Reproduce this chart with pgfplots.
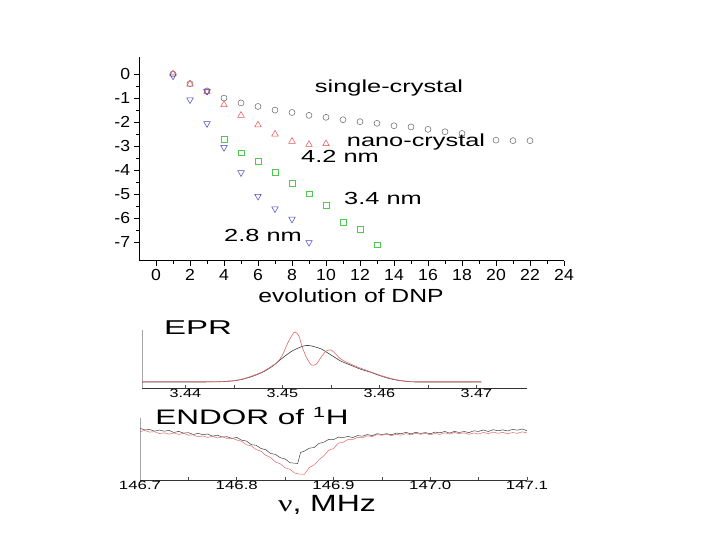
\documentclass[border=0pt]{standalone}
\usepackage{pgfplots}
\pgfplotsset{compat=1.18}
\usepackage{fontspec}
\setmainfont{Liberation Sans}
\newfontfamily\greekserif{Liberation Serif}

\definecolor{scgray}{RGB}{100,100,100}
\definecolor{ncred}{RGB}{230,80,80}
\definecolor{ncgreen}{RGB}{80,200,80}
\definecolor{ncblue}{RGB}{70,70,200}
\definecolor{specred}{RGB}{225,105,105}

\begin{document}
\begin{tikzpicture}
\path[use as bounding box] (0pt,0pt) rectangle (720pt,540pt);

% DNP enhancement vs evolution
\begin{axis}[
    at={(139pt,279.3pt)}, anchor=south west,
    scale only axis, width=425pt, height=204pt,
    xmin=-1, xmax=24, ymin=-7.76, ymax=0.72,
    axis x line=bottom, axis y line=left,
    axis line style={-, line width=1pt},
    xtick={0,2,...,24}, ytick={-7,-6,...,0},
    minor x tick num=1, minor y tick num=1,
    tick align=outside, major tick length=5pt, minor tick length=3pt,
    tick style={black, line width=0.8pt},
    /pgf/number format/assume math mode=true,
    tick label style={font=\fontsize{16}{16}\selectfont, xscale=1.1},
    clip=false,
]
\addplot[only marks, mark=o, mark size=3pt, scgray, line width=0.5pt] coordinates {
(1,0) (2,-0.4) (3,-0.7) (4,-1.0) (5,-1.2) (6,-1.35) (7,-1.5) (8,-1.6)
(9,-1.72) (10,-1.8) (11,-1.9) (12,-1.98) (13,-2.05) (14,-2.15) (15,-2.2)
(16,-2.3) (17,-2.4) (18,-2.47) (20,-2.75) (21,-2.77) (22,-2.77)
};
\addplot[only marks, mark=triangle, mark size=3.8pt, ncred, line width=0.5pt] coordinates {
(1,0) (2,-0.42) (3,-0.75) (4,-1.28) (5,-1.72) (6,-2.12) (7,-2.5) (8,-2.8)
(9,-2.93) (10,-2.9)
};
\addplot[only marks, mark=square, mark size=2.8pt, ncgreen, line width=0.5pt] coordinates {
(4,-2.7) (5,-3.27) (6,-3.62) (7,-4.08) (8,-4.55) (9,-4.97) (10,-5.45)
(11,-6.15) (12,-6.45) (13,-7.1)
};
\addplot[only marks, mark=triangle, mark options={rotate=180}, mark size=3.8pt, ncblue, line width=0.5pt] coordinates {
(1,-0.08) (2,-1.07) (3,-2.06) (3,-0.72) (4,-3.05) (5,-4.1) (6,-5.08) (7,-5.6)
(8,-6.03) (9,-7.0)
};
\end{axis}

\node[anchor=base, font=\fontsize{17.5}{17.5}\selectfont, xscale=1.45] at (389pt,447pt) {single-crystal};
\node[anchor=base, font=\fontsize{17.5}{17.5}\selectfont, xscale=1.45] at (416pt,393pt) {nano-crystal};
\node[anchor=base, font=\fontsize{17.5}{17.5}\selectfont, xscale=1.45] at (340pt,377pt) {4.2 nm};
\node[anchor=base, font=\fontsize{17.5}{17.5}\selectfont, xscale=1.45] at (383pt,335pt) {3.4 nm};
\node[anchor=base, font=\fontsize{17.5}{17.5}\selectfont, xscale=1.45] at (263pt,298pt) {2.8 nm};
\node[anchor=base, font=\fontsize{19}{19}\selectfont, xscale=1.3] at (351pt,237pt) {evolution of DNP};

% EPR spectrum
\begin{axis}[
    at={(142pt,152pt)}, anchor=south west,
    scale only axis, width=385pt, height=58pt,
    xmin=3.43552, xmax=3.47521, ymin=-6, ymax=52,
    axis x line=bottom, axis y line=left,
    x axis line style={-, line width=0.8pt, black!80},
    y axis line style={-, line width=0.6pt, black!35},
    xtick={3.44,3.45,3.46,3.47}, ytick=\empty,
    minor x tick num=1, scaled x ticks=false,
    tick align=inside, major tick length=3pt, minor tick length=3pt,
    tick style={black!70, line width=0.6pt},
    xticklabel style={/pgf/number format/fixed, /pgf/number format/precision=2,
        /pgf/number format/fixed zerofill,
        font=\fontsize{12}{12}\selectfont, xscale=1.35, yshift=2pt},
    /pgf/number format/assume math mode=true,
]
\addplot[black!75, line width=0.6pt, smooth] coordinates {
(3.4355,0) (3.440,0) (3.443,0.1) (3.444,0.5) (3.445,1.2) (3.446,3) (3.447,6)
(3.448,10) (3.449,16) (3.450,24) (3.451,31) (3.452,35.5) (3.4525,36.5) (3.453,36) (3.454,33)
(3.455,27) (3.456,21) (3.457,17) (3.458,13) (3.459,10) (3.460,6.5) (3.461,3.5)
(3.462,1.5) (3.463,0.5) (3.464,0) (3.4705,0)
};
\addplot[specred, line width=0.6pt, smooth] coordinates {
(3.4355,0.3) (3.440,0.3) (3.443,0.3) (3.444,0.6) (3.445,1.4) (3.446,3.3)
(3.447,6.5) (3.448,10.5) (3.449,16.5) (3.4495,20) (3.450,27) (3.4505,38)
(3.451,47) (3.4513,50) (3.4517,46) (3.452,36) (3.4525,24) (3.453,17)
(3.4535,18) (3.454,25) (3.4545,31) (3.455,32) (3.4555,28) (3.456,23)
(3.457,18) (3.458,14) (3.459,10.5) (3.460,7) (3.461,4) (3.462,1.8)
(3.463,0.6) (3.464,0.3) (3.4705,0.3)
};
\end{axis}
\node[anchor=base, font=\fontsize{20}{20}\selectfont, xscale=1.65] at (198pt,205pt) {EPR};

% ENDOR spectrum
\begin{axis}[
    at={(140pt,60pt)}, anchor=south west,
    scale only axis, width=387pt, height=62pt,
    xmin=146.7, xmax=147.1, ymin=-50, ymax=12,
    axis x line=bottom, axis y line=left,
    x axis line style={-, line width=0.8pt, black!80},
    y axis line style={-, line width=0.6pt, black!35},
    xtick={146.7,146.8,146.9,147.0,147.1}, ytick=\empty,
    minor x tick num=1, scaled x ticks=false,
    tick align=inside, major tick length=3pt, minor tick length=3pt,
    tick style={black!70, line width=0.6pt},
    xticklabel style={/pgf/number format/fixed, /pgf/number format/precision=1,
        /pgf/number format/fixed zerofill, /pgf/number format/1000 sep={},
        font=\fontsize{12}{12}\selectfont, xscale=1.4, yshift=2pt},
    /pgf/number format/assume math mode=true,
]
\addplot[black!75, line width=0.5pt] coordinates {
(146.700,1.6) (146.705,0.1) (146.710,0.5) (146.715,-1.2) (146.720,0.0)
(146.725,-1.2) (146.730,-0.4) (146.735,-2.5) (146.740,-1.4) (146.745,-3.1)
(146.750,-2.7) (146.755,-4.5) (146.760,-3.4) (146.765,-4.7) (146.770,-4.0)
(146.775,-6.2) (146.780,-5.2) (146.785,-7.0) (146.790,-6.7) (146.795,-8.5)
(146.800,-7.4) (146.805,-10.2) (146.810,-11.0) (146.815,-14.7) (146.820,-15.2)
(146.825,-18.5) (146.830,-19.7) (146.835,-23.5) (146.840,-24.4) (146.845,-27.7)
(146.850,-29.0) (146.855,-32.7) (146.860,-33.2) (146.863,-33.5) (146.866,-22.5)
(146.870,-21.0) (146.875,-18.2) (146.880,-17.5) (146.885,-13.4) (146.890,-12.2)
(146.895,-9.5) (146.900,-9.7) (146.905,-7.2) (146.910,-7.5) (146.915,-6.5)
(146.920,-7.5) (146.925,-5.6) (146.930,-6.2) (146.935,-4.5) (146.940,-5.7)
(146.945,-3.7) (146.950,-4.5) (146.955,-3.7) (146.960,-4.8) (146.965,-3.1)
(146.970,-3.7) (146.975,-2.3) (146.980,-3.9) (146.985,-2.3) (146.990,-3.5)
(146.995,-2.6) (147.000,-3.8) (147.005,-2.1) (147.010,-2.8) (147.015,-1.5)
(147.020,-3.1) (147.025,-1.4) (147.030,-2.5) (147.035,-1.5) (147.040,-2.6)
(147.045,-0.8) (147.050,-1.4) (147.055,0.0) (147.060,-1.5) (147.065,0.3)
(147.070,-0.8) (147.075,0.1) (147.080,-1.0) (147.085,0.6) (147.090,-0.2)
(147.095,1.0) (147.100,-0.7)
};
\addplot[specred, line width=0.5pt] coordinates {
(146.700,-1.6) (146.705,-0.5) (146.710,-2.1) (146.715,-1.7) (146.720,-3.6)
(146.725,-2.8) (146.730,-4.2) (146.735,-2.9) (146.740,-4.4) (146.745,-3.3)
(146.750,-5.3) (146.755,-4.9) (146.760,-6.8) (146.765,-6.0) (146.770,-7.4)
(146.775,-6.3) (146.780,-8.0) (146.785,-6.9) (146.790,-8.5) (146.795,-8.1)
(146.800,-10.0) (146.805,-11.3) (146.810,-14.8) (146.815,-15.8) (146.820,-19.6)
(146.825,-21.1) (146.830,-25.3) (146.835,-27.5) (146.840,-32.0) (146.845,-33.8)
(146.850,-37.8) (146.855,-39.3) (146.860,-43.1) (146.865,-44.1) (146.870,-44.3)
(146.875,-37.5) (146.880,-35.0) (146.885,-29.8) (146.890,-25.8) (146.895,-20.3)
(146.900,-18.6) (146.905,-13.1) (146.910,-12.3) (146.915,-9.5) (146.920,-9.5)
(146.925,-7.3) (146.930,-7.8) (146.935,-5.8) (146.940,-6.6) (146.945,-4.6)
(146.950,-5.3) (146.955,-4.3) (146.960,-5.6) (146.965,-4.3) (146.970,-5.2)
(146.975,-3.6) (146.980,-4.8) (146.985,-3.2) (146.990,-4.3) (146.995,-3.4)
(147.000,-4.8) (147.005,-3.5) (147.010,-4.4) (147.015,-2.8) (147.020,-4.1)
(147.025,-2.5) (147.030,-3.7) (147.035,-2.8) (147.040,-4.3) (147.045,-3.0)
(147.050,-4.0) (147.055,-2.4) (147.060,-3.7) (147.065,-2.1) (147.070,-3.3)
(147.075,-2.4) (147.080,-3.8) (147.085,-2.5) (147.090,-3.4) (147.095,-1.8)
(147.100,-3.0)
};
\end{axis}
\node[anchor=base west, font=\fontsize{21}{21}\selectfont, xscale=1.5] at (150pt,115pt) {ENDOR of \textsuperscript{1}H};
\node[anchor=base, font=\fontsize{23.5}{23.5}\selectfont, xscale=1.36] at (327pt,28pt) {{\greekserif ν},  MHz};
\end{tikzpicture}
\end{document}
